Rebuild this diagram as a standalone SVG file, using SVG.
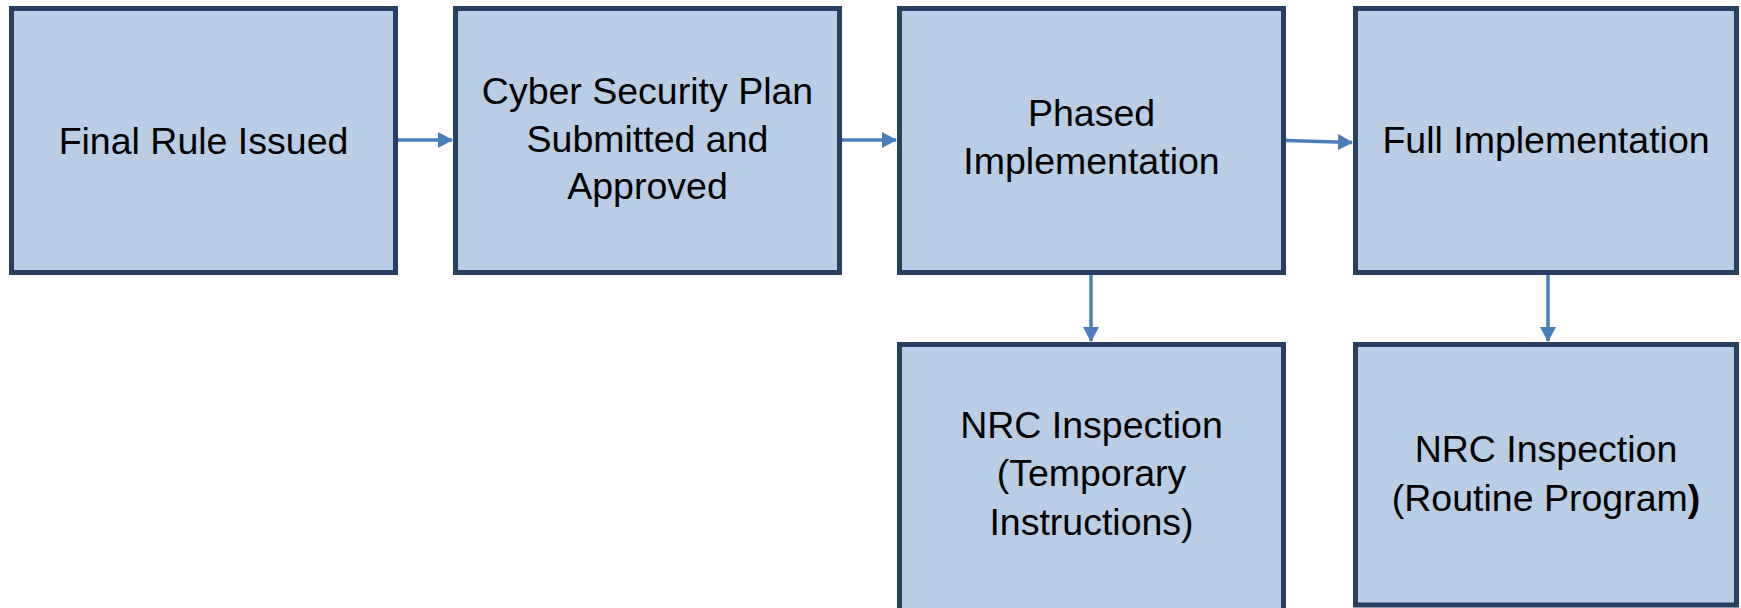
<svg xmlns="http://www.w3.org/2000/svg" width="1741" height="608" viewBox="0 0 1741 608">
<style>
.box{fill:#b9cde4;stroke:#263f62;stroke-width:5}
.t{font-family:"Liberation Sans",Arial,sans-serif;font-size:37.5px;fill:#000;text-anchor:middle}
.c{stroke:#4a7ebb;stroke-width:3.5;fill:none}
</style>
<defs>
<marker id="ah" markerWidth="15" markerHeight="16" refX="14" refY="8" orient="auto" markerUnits="userSpaceOnUse">
<path d="M0,0 L15,8 L0,16 Z" fill="#4a7ebb"/>
</marker>
</defs>
<g id="connectors">
<line class="c" x1="398" y1="140" x2="452" y2="140" marker-end="url(#ah)"/>
<line class="c" x1="842" y1="140" x2="896" y2="140" marker-end="url(#ah)"/>
<line class="c" x1="1286" y1="140.5" x2="1352" y2="142.5" marker-end="url(#ah)"/>
<line class="c" x1="1091" y1="275" x2="1091" y2="341" marker-end="url(#ah)"/>
<line class="c" x1="1548" y1="275" x2="1548" y2="341" marker-end="url(#ah)"/>
</g>
<g id="n1">
<rect class="box" x="11.5" y="8.5" width="384" height="264"/>
<text class="t" x="203.5" y="154">Final Rule Issued</text>
</g>
<g id="n2">
<rect class="box" x="455.5" y="8.5" width="384" height="264"/>
<text class="t" x="647.5" y="104">Cyber Security Plan</text>
<text class="t" x="647.5" y="152">Submitted and</text>
<text class="t" x="647.5" y="199">Approved</text>
</g>
<g id="n3">
<rect class="box" x="899.5" y="8.5" width="384" height="264"/>
<text class="t" x="1091.5" y="126">Phased</text>
<text class="t" x="1091.5" y="174">Implementation</text>
</g>
<g id="n4">
<rect class="box" x="1355.5" y="8.5" width="381" height="264"/>
<text class="t" x="1546" y="153">Full Implementation</text>
</g>
<g id="n5">
<rect class="box" x="899.5" y="344.5" width="384" height="270"/>
<text class="t" x="1091.5" y="438">NRC Inspection</text>
<text class="t" x="1091.5" y="486">(Temporary</text>
<text class="t" x="1091.5" y="535">Instructions)</text>
</g>
<g id="n6">
<rect class="box" x="1355.5" y="344.5" width="381" height="260.5"/>
<text class="t" x="1546" y="462">NRC Inspection</text>
<text class="t" x="1546" y="511">(Routine Program<tspan font-weight="bold">)</tspan></text>
</g>
</svg>
